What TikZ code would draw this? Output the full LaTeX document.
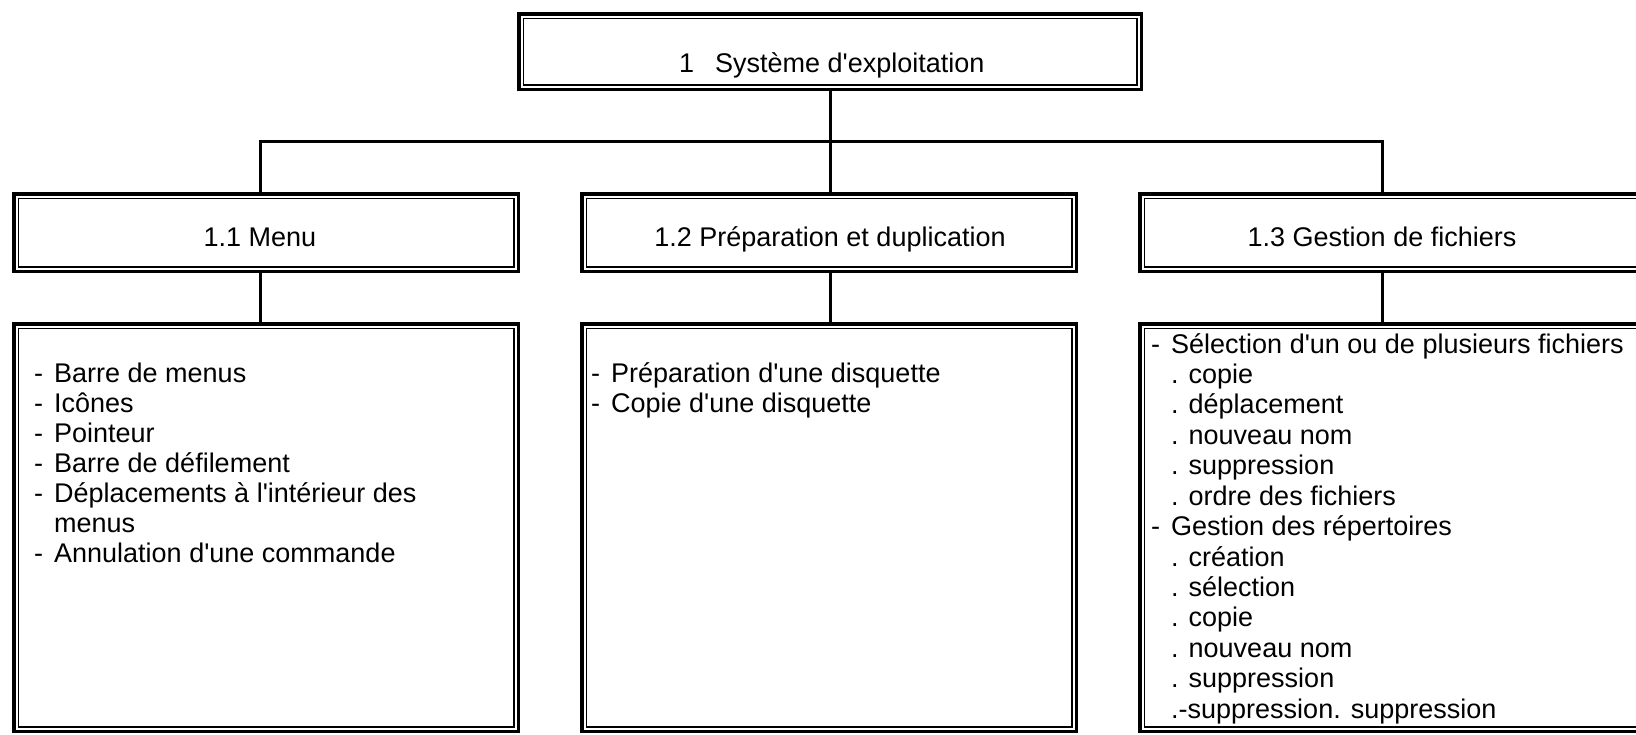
\documentclass[tikz,border=0pt]{standalone}
\usepackage{fontspec}
\setmainfont{Liberation Sans}[Ligatures=TeXOff]
\newcommand\DItem[1]{\makebox[20pt][l]{-}#1}
\newcommand\PItem[1]{\hspace*{20pt}#1}
\newcommand\DBox[5]{%
  \node[outerbox, minimum width=#4pt, minimum height=#5pt, anchor=north west] (#1) at (#2,#3) {};
  \draw[innerline] ([shift={(4.6,4.6)}]#1.north west) rectangle ([shift={(-4.6,-4.6)}]#1.south east);}
\begin{document}
\begin{tikzpicture}[x=1pt,y=-1pt,
  outerbox/.style={draw, rectangle, line width=3.5pt, inner sep=0pt, outer sep=0pt},
  innerline/.style={line width=1.7pt},
  conn/.style={line width=3pt},
  txt/.style={font=\fontsize{27}{30.4}\selectfont, inner sep=0pt},
  lbl/.style={txt, anchor=base},
  item/.style={txt, anchor=base west}]
\useasboundingbox (0,0) rectangle (1636,734);
\fill[white] (0,0) rectangle (1636,734);
\clip (0,0) rectangle (1636,734);

% boxes
\DBox{top}{518.75}{13.75}{622.5}{75.5}
\DBox{b11}{13.75}{193.75}{504.5}{77.5}
\DBox{b12}{581.75}{193.75}{494.5}{77.5}
\DBox{b13}{1139.75}{193.75}{520}{77.5}
\DBox{c11}{13.75}{323.75}{504.5}{407.5}
\DBox{c12}{581.75}{323.75}{494.5}{407.5}
\DBox{c13}{1139.75}{323.75}{520}{407.5}

% connector positions
\coordinate (x1) at (260,141);
\coordinate (x2) at (830,141);
\coordinate (x3) at (1382,141);

\draw[conn] (x2 |- top.south) -- (x2 |- b12.north);
\draw[conn] (x1 |- b11.north) -- (x1) -- (x3) -- (x3 |- b13.north);
\draw[conn] (x1 |- b11.south) -- (x1 |- c11.north);
\draw[conn] (x2 |- b12.south) -- (x2 |- c12.north);
\draw[conn] (x3 |- b13.south) -- (x3 |- c13.north);

% titles
\node[txt, anchor=base west] (t0) at (679,72) {1\hspace{21pt}Système d'exploitation};
\node[lbl] (t11) at (260,246.5) {1.1 Menu};
\node[lbl] (t12) at (830,246.5) {1.2 Préparation et duplication};
\node[lbl] (t13) at (1382,246.5) {1.3 Gestion de fichiers};

% left list
\foreach \t [count=\i from 0] in {
  \DItem{Barre de menus},
  \DItem{Icônes},
  \DItem{Pointeur},
  \DItem{Barre de défilement},
  \DItem{Déplacements à l'intérieur des},
  \PItem{menus},
  \DItem{Annulation d'une commande}}
  \node[item] (la\i) at (34,382+30.1*\i) {\t};

% middle list
\foreach \t [count=\i from 0] in {
  \DItem{Préparation d'une disquette},
  \DItem{Copie d'une disquette}}
  \node[item] (lb\i) at (591,382+30.1*\i) {\t};

% right list
\foreach \t [count=\i from 0] in {
  \DItem{Sélection d'un ou de plusieurs fichiers},
  \PItem{. copie},
  \PItem{. déplacement},
  \PItem{. nouveau nom},
  \PItem{. suppression},
  \PItem{. ordre des fichiers},
  \DItem{Gestion des répertoires},
  \PItem{. création},
  \PItem{. sélection},
  \PItem{. copie},
  \PItem{. nouveau nom},
  \PItem{. suppression},
  \PItem{.-suppression. suppression}}
  \node[item] (lc\i) at (1151,353+30.43*\i) {\t};
\end{tikzpicture}
\end{document}
